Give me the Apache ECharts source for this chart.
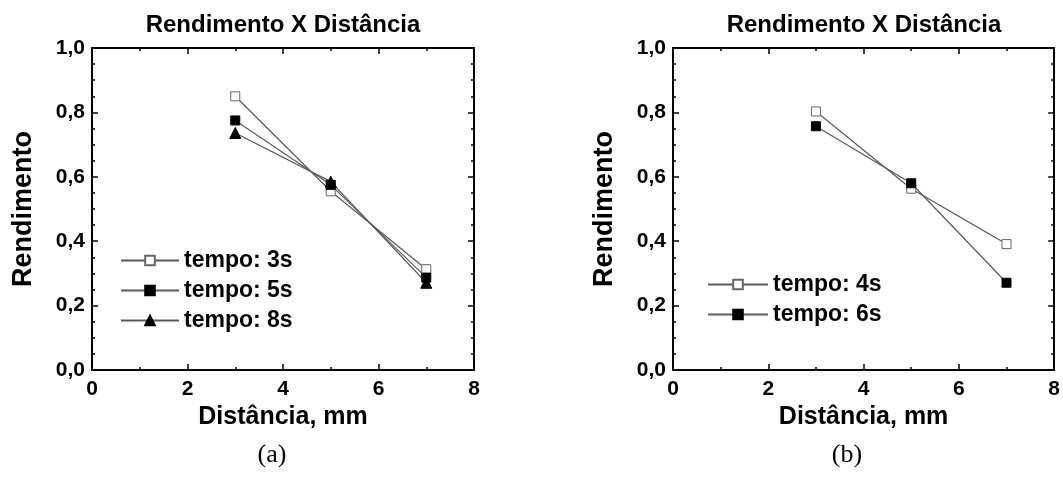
<!DOCTYPE html>
<html>
<head>
<meta charset="utf-8">
<script src="https://cdn.jsdelivr.net/npm/echarts@6/dist/echarts.min.js"></script>
<style>
  html, body { margin: 0; padding: 0; background: #fff; }
  #chart { width: 1063px; height: 480px; }
</style>
</head>
<body>
<div id="chart"></div>
<script>
// distância (mm)
const distA = [3, 5, 7]
const distB = [3, 5, 7]

// (a)
const namesA = ['tempo: 3s', 'tempo: 5s', 'tempo: 8s']
const t3s = [0.85, 0.555, 0.313]
const t5s = [0.775, 0.575, 0.287]
const t8s = [0.736, 0.585, 0.271]

// (b)
const namesB = ['tempo: 4s', 'tempo: 6s']
const t4s = [0.803, 0.563, 0.391]
const t6s = [0.757, 0.58, 0.271]

const xTicks = [0, 2, 4, 6, 8]
const yTicks = [0, 0.2, 0.4, 0.6, 0.8, 1.0]

const panelTitle = 'Rendimento X Distância'
const xName = 'Distância, mm'
const yName = 'Rendimento'

const FONT = '"Liberation Sans", Arial, sans-serif'
const LINE = '#5a5a5a'

const pairs = (xs, ys) => xs.map((x, i) => [x, ys[i]])

const axisCommon = {
  type: 'value',
  axisLine: { show: true, onZero: false, lineStyle: { color: '#000', width: 2 } },
  axisTick: { show: true, inside: true, length: 6, lineStyle: { color: '#000', width: 1.5 } },
  minorTick: { show: true, length: 3, lineStyle: { color: '#000', width: 1.5 } },
  splitLine: { show: false },
}

const makeX = (gridIndex, pos, withLabels) => ({
  ...axisCommon,
  gridIndex,
  position: pos,
  min: xTicks[0],
  max: xTicks[xTicks.length - 1],
  interval: xTicks[1] - xTicks[0],
  minorTick: { ...axisCommon.minorTick, splitNumber: 2 },
  axisLabel: withLabels
    ? { show: true, margin: 9, color: '#000', fontFamily: FONT, fontWeight: 'bold', fontSize: 21 }
    : { show: false },
  name: withLabels ? xName : '',
  nameLocation: 'middle',
  nameGap: 33,
  nameTextStyle: { color: '#000', fontFamily: FONT, fontWeight: 'bold', fontSize: 25 },
})

const makeY = (gridIndex, pos, withLabels) => ({
  ...axisCommon,
  gridIndex,
  position: pos,
  min: yTicks[0],
  max: yTicks[yTicks.length - 1],
  interval: 0.2,
  minorTick: { ...axisCommon.minorTick, splitNumber: 4 },
  axisLabel: withLabels
    ? {
        show: true, margin: 7, color: '#000', fontFamily: FONT, fontWeight: 'bold', fontSize: 21,
        formatter: (v) => v.toFixed(1).replace('.', ','),
      }
    : { show: false },
  name: withLabels ? yName : '',
  nameLocation: 'middle',
  nameRotate: 90,
  nameGap: 55,
  nameTextStyle: { color: '#000', fontFamily: FONT, fontWeight: 'bold', fontSize: 27 },
})

const makeSeries = (name, axisIdx, xs, ys, symbol, fill) => ({
  name,
  type: 'line',
  xAxisIndex: axisIdx,
  yAxisIndex: axisIdx,
  data: pairs(xs, ys),
  symbol,
  symbolSize: symbol === 'triangle' ? 11 : 9,
  showSymbol: true,
  animation: false,
  lineStyle: { color: LINE, width: 1.2 },
  itemStyle: { color: fill, borderColor: fill === '#fff' ? '#666' : '#000', borderWidth: 1 },
  emphasis: { disabled: true },
})

const legendText = { color: '#000', fontFamily: FONT, fontWeight: 'bold', fontSize: 23 }

const chart = echarts.init(document.getElementById('chart'))
chart.setOption({
  backgroundColor: '#fff',
  animation: false,
  grid: [
    { left: 92, right: 589, top: 48, bottom: 110 },
    { left: 673, right: 7, top: 48, bottom: 110 },
  ],
  xAxis: [makeX(0, 'bottom', true), makeX(0, 'top', false), makeX(1, 'bottom', true), makeX(1, 'top', false)],
  yAxis: [makeY(0, 'left', true), makeY(0, 'right', false), makeY(1, 'left', true), makeY(1, 'right', false)],
  legend: [
    {
      data: namesA, orient: 'vertical', left: 115, top: 244,
      itemWidth: 58, itemHeight: 12, itemGap: 7, textStyle: legendText,
      selectedMode: false,
    },
    {
      data: namesB, orient: 'vertical', left: 702, top: 268,
      itemWidth: 60, itemHeight: 12, itemGap: 7, textStyle: legendText,
      selectedMode: false,
    },
  ],
  series: [
    makeSeries(namesA[0], 0, distA, t3s, 'rect', '#fff'),
    makeSeries(namesA[1], 0, distA, t5s, 'rect', '#000'),
    makeSeries(namesA[2], 0, distA, t8s, 'triangle', '#000'),
    makeSeries(namesB[0], 2, distB, t4s, 'rect', '#fff'),
    makeSeries(namesB[1], 2, distB, t6s, 'rect', '#000'),
  ],
  graphic: [
    { type: 'text', x: 283, y: 25, style: { text: panelTitle, font: 'bold 24px ' + FONT, fill: '#000', align: 'center', verticalAlign: 'middle' } },
    { type: 'text', x: 864, y: 25, style: { text: panelTitle, font: 'bold 24px ' + FONT, fill: '#000', align: 'center', verticalAlign: 'middle' } },
    { type: 'text', x: 272, y: 455, style: { text: '(a)', font: '26px "Liberation Serif", "Times New Roman", serif', fill: '#000', align: 'center', verticalAlign: 'middle' } },
    { type: 'text', x: 847, y: 455, style: { text: '(b)', font: '26px "Liberation Serif", "Times New Roman", serif', fill: '#000', align: 'center', verticalAlign: 'middle' } },
  ],
})
</script>
</body>
</html>
